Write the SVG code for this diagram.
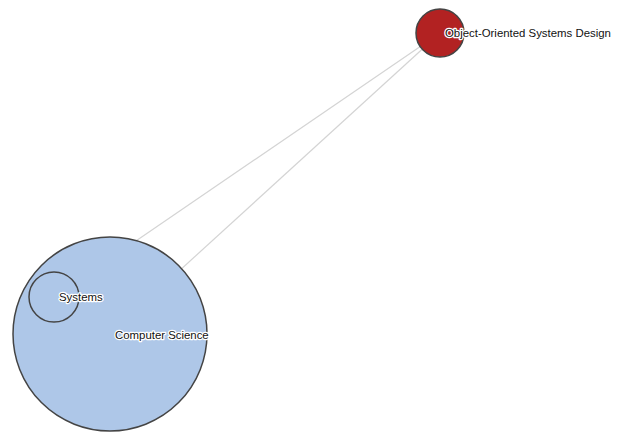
<svg xmlns="http://www.w3.org/2000/svg" width="622" height="432" viewBox="0 0 622 432">
<style>
.link{stroke:#d4d4d4;stroke-width:1.2;fill:none}
.node circle{stroke:#444;stroke-width:1.5}
.lbl{font-family:"Liberation Sans",Arial,sans-serif;font-size:11.4px;fill:#111;stroke:#fff;stroke-width:2.5px;stroke-linejoin:round;paint-order:stroke}
</style>
<rect width="622" height="432" fill="#fff"/>
<g id="links">
<line class="link" x1="440" y1="33" x2="54" y2="297"/>
<line class="link" x1="440" y1="33" x2="110" y2="334"/>
</g>
<g id="node-cs" class="node">
<circle cx="110" cy="334" r="97" fill="#aec7e8"/>
</g>
<g id="node-systems" class="node">
<circle cx="54" cy="297" r="25" fill="#aec7e8"/>
</g>
<g id="node-oosd" class="node">
<circle cx="440" cy="33" r="24" fill="#b22222"/>
</g>
<g id="labels">
<text class="lbl" x="115" y="339">Computer Science</text>
<text class="lbl" x="59" y="301">Systems</text>
<text class="lbl" x="445" y="37">Object-Oriented Systems Design</text>
</g>
</svg>
